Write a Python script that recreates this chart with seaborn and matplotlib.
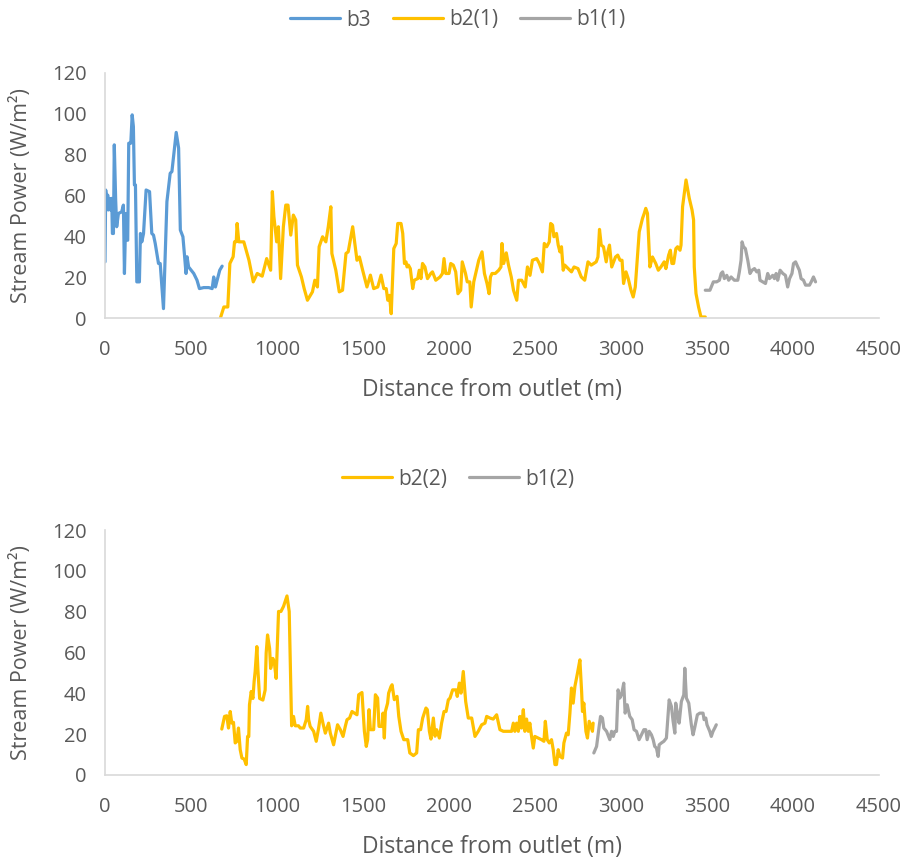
import matplotlib
matplotlib.use("Agg")
import matplotlib.pyplot as plt
import seaborn as sns

# --------------------------
# Data (distance in m, stream power in W/m2)
# --------------------------
b3_x = [0, 4, 10, 16, 19, 25, 33, 39, 43, 49, 54, 62, 68, 78, 97, 107, 113, 121, 126, 132,
        138, 150, 158, 165, 171, 177, 185, 200, 206, 214, 224, 239, 259, 272, 282, 292, 311,
        321, 340, 360, 379, 389, 414, 428, 438, 453, 463, 471, 477, 486, 516, 535, 549, 574,
        603, 623, 632, 642, 652, 667, 681]
b3_y = [27.5, 62.7, 57.8, 60.2, 52.9, 58.6, 52.9, 58.6, 41.4, 41.4, 84.8, 57.8, 44.7, 51.2,
        52.0, 55.3, 21.8, 51.2, 38.1, 38.1, 85.6, 85.6, 99.5, 93.8, 65.2, 65.2, 17.7, 17.7,
        41.4, 37.3, 41.4, 62.7, 61.9, 41.4, 40.6, 36.5, 26.7, 26.7, 4.6, 57.0, 70.9, 71.7,
        90.9, 83.2, 43.1, 39.8, 30.0, 21.8, 30.0, 25.0, 21.8, 18.5, 14.4, 14.9, 14.9, 14.4,
        20.1, 15.2, 18.5, 23.4, 25.4]

b2_1_x = [671, 691, 714, 726, 745, 753, 763, 768, 778, 807, 837, 862, 885, 914, 940, 963, 973,
          982, 998, 1008, 1021, 1037, 1051, 1064, 1080, 1095, 1109, 1119, 1142, 1158, 1177,
          1206, 1220, 1235, 1245, 1265, 1284, 1298, 1313, 1319, 1342, 1362, 1381, 1401, 1414,
          1440, 1465, 1479, 1498, 1523, 1543, 1562, 1586, 1605, 1621, 1635, 1644, 1654, 1664,
          1679, 1693, 1702, 1721, 1731, 1741, 1750, 1756, 1764, 1775, 1789, 1798, 1818, 1827,
          1837, 1846, 1860, 1875, 1894, 1904, 1923, 1948, 1962, 1971, 1981, 2000, 2010, 2025,
          2039, 2052, 2068, 2077, 2096, 2106, 2121, 2129, 2144, 2173, 2192, 2206, 2221, 2233,
          2241, 2250, 2269, 2289, 2302, 2308, 2318, 2333, 2346, 2362, 2375, 2394, 2404, 2423,
          2443, 2456, 2471, 2485, 2510, 2525, 2543, 2554, 2568, 2583, 2591, 2602, 2610, 2625,
          2635, 2645, 2654, 2664, 2673, 2693, 2712, 2727, 2750, 2769, 2789, 2808, 2827, 2856,
          2866, 2875, 2885, 2898, 2914, 2923, 2933, 2946, 2968, 2981, 2994, 3006, 3015, 3029,
          3042, 3058, 3071, 3083, 3106, 3125, 3135, 3144, 3154, 3168, 3183, 3202, 3217, 3232,
          3251, 3261, 3277, 3287, 3296, 3306, 3319, 3329, 3343, 3349, 3358, 3378, 3397, 3413,
          3422, 3426, 3436, 3451, 3465, 3490]
b2_1_y = [0.0, 5.4, 5.4, 26.7, 30.0, 37.3, 37.3, 46.3, 37.3, 37.3, 28.3, 17.7, 21.8, 20.5,
          29.1, 23.4, 61.9, 49.6, 37.3, 44.7, 19.3, 44.7, 55.3, 55.3, 40.6, 50.4, 48.0, 25.9,
          20.1, 14.4, 8.7, 12.8, 18.5, 15.2, 34.9, 39.8, 37.3, 44.7, 54.5, 31.6, 23.4, 12.8,
          13.6, 31.6, 32.4, 44.7, 28.3, 29.9, 23.4, 15.2, 21.0, 14.4, 15.2, 21.0, 14.4, 14.4,
          8.7, 11.1, 2.1, 34.0, 36.5, 46.3, 46.3, 41.4, 26.7, 27.5, 25.0, 25.9, 24.2, 14.4,
          18.5, 19.3, 23.4, 19.3, 26.7, 25.0, 19.3, 21.8, 22.6, 18.5, 20.1, 21.8, 29.1, 21.8,
          21.8, 26.7, 25.9, 22.6, 11.9, 13.6, 27.5, 21.8, 17.7, 17.7, 5.4, 17.7, 28.3, 32.4,
          21.8, 16.9, 11.9, 20.1, 21.8, 21.8, 23.4, 25.0, 36.5, 26.7, 31.9, 25.9, 20.1, 13.6,
          8.7, 18.5, 18.5, 15.2, 25.0, 20.9, 28.3, 29.1, 26.7, 22.6, 36.5, 34.9, 37.3, 46.3,
          45.5, 39.8, 41.4, 35.7, 32.4, 34.9, 23.4, 25.9, 24.2, 22.6, 25.0, 24.2, 20.1, 18.5,
          27.5, 25.9, 27.5, 29.9, 43.4, 35.7, 34.9, 27.5, 32.4, 35.7, 25.0, 29.9, 30.8, 28.3,
          28.3, 16.9, 22.6, 19.3, 13.6, 10.3, 15.2, 42.2, 48.8, 51.2, 53.7, 51.2, 25.0, 29.9,
          26.7, 23.4, 25.0, 27.5, 24.2, 30.8, 33.2, 26.7, 26.7, 34.0, 34.9, 33.2, 35.7, 54.5,
          67.6, 58.6, 52.9, 48.0, 25.0, 12.0, 5.4, 0.5, 0.5]

b1_1_x = [3490, 3517, 3537, 3556, 3572, 3582, 3591, 3601, 3615, 3626, 3640, 3659, 3679, 3688,
          3698, 3704, 3712, 3723, 3737, 3750, 3762, 3776, 3789, 3801, 3808, 3824, 3840, 3853,
          3863, 3873, 3882, 3892, 3902, 3911, 3925, 3941, 3956, 3969, 3980, 3994, 4003, 4015,
          4028, 4037, 4047, 4061, 4073, 4096, 4106, 4119, 4131]
b1_1_y = [13.6, 13.6, 17.7, 17.7, 18.5, 21.8, 22.6, 19.3, 20.9, 18.5, 20.1, 18.5, 18.5, 22.6,
          28.3, 37.3, 34.9, 34.0, 28.3, 21.8, 23.4, 24.2, 22.6, 23.4, 18.5, 17.7, 16.9, 21.8,
          19.3, 20.1, 20.9, 19.3, 21.8, 18.5, 23.4, 21.8, 20.9, 15.2, 19.3, 21.8, 26.7, 27.5,
          25.0, 23.4, 19.3, 18.5, 16.1, 16.1, 17.7, 20.1, 17.7]

b2_2_x = [679, 695, 708, 718, 728, 737, 747, 757, 767, 776, 786, 796, 809, 821, 829, 836, 840,
          850, 860, 867, 873, 883, 889, 899, 918, 931, 937, 945, 957, 963, 976, 984, 995, 1009,
          1023, 1038, 1058, 1071, 1085, 1096, 1106, 1125, 1135, 1155, 1170, 1178, 1184, 1193,
          1213, 1228, 1242, 1255, 1267, 1281, 1300, 1310, 1329, 1352, 1368, 1384, 1397, 1407,
          1422, 1436, 1465, 1475, 1494, 1508, 1519, 1527, 1535, 1543, 1562, 1572, 1585, 1593,
          1611, 1616, 1624, 1630, 1643, 1649, 1663, 1669, 1682, 1698, 1708, 1721, 1737, 1760,
          1772, 1793, 1812, 1822, 1835, 1847, 1866, 1874, 1886, 1895, 1909, 1919, 1928, 1944,
          1957, 1971, 1983, 1996, 2006, 2021, 2041, 2048, 2060, 2070, 2083, 2097, 2112, 2132,
          2151, 2170, 2190, 2209, 2219, 2238, 2257, 2277, 2296, 2316, 2335, 2364, 2374, 2383,
          2393, 2403, 2412, 2422, 2432, 2441, 2451, 2461, 2470, 2480, 2490, 2499, 2519, 2538,
          2552, 2560, 2571, 2583, 2596, 2606, 2616, 2625, 2635, 2645, 2660, 2668, 2683, 2693,
          2703, 2712, 2722, 2732, 2747, 2761, 2771, 2776, 2784, 2796, 2805, 2815, 2825, 2834,
          2838]
b2_2_y = [22.5, 28.7, 29.0, 23.0, 31.1, 25.4, 25.8, 15.7, 16.5, 23.0, 12.4, 8.3, 7.8, 5.1,
          18.9, 18.9, 34.4, 40.9, 37.5, 45.8, 50.7, 62.9, 51.5, 37.5, 36.7, 41.6, 59.7, 68.6,
          62.0, 52.2, 57.1, 55.5, 47.3, 80.1, 80.1, 82.6, 87.7, 80.1, 24.1, 28.7, 24.1, 24.1,
          23.0, 23.0, 27.1, 33.6, 27.1, 23.8, 21.4, 16.5, 23.0, 30.3, 25.4, 20.5, 25.4, 20.5,
          14.8, 24.6, 22.2, 18.9, 23.8, 27.1, 27.9, 31.1, 29.5, 39.3, 40.4, 21.5, 14.0, 17.3,
          32.0, 22.2, 22.2, 39.3, 37.7, 23.8, 23.8, 30.3, 18.1, 31.1, 35.2, 40.1, 43.4, 44.2,
          36.9, 38.5, 28.7, 21.4, 17.3, 17.3, 10.8, 9.5, 10.8, 22.2, 22.2, 27.9, 32.8, 32.0,
          21.4, 17.6, 27.9, 19.0, 22.2, 18.1, 25.4, 31.1, 31.1, 36.8, 37.7, 41.7, 41.7, 38.5,
          45.0, 40.1, 50.7, 36.0, 27.9, 27.9, 18.9, 21.4, 24.6, 25.4, 28.7, 27.9, 27.4, 29.5,
          22.2, 21.4, 21.4, 21.4, 25.4, 21.4, 25.4, 21.4, 28.7, 23.0, 32.0, 21.4, 27.4, 21.4,
          25.4, 18.9, 13.2, 18.9, 18.1, 17.3, 16.5, 26.3, 17.3, 15.7, 17.3, 12.4, 5.1, 5.1,
          12.4, 9.1, 8.3, 15.7, 20.5, 19.7, 30.3, 42.6, 35.2, 43.4, 49.9, 56.4, 40.9, 31.1,
          35.2, 21.4, 18.1, 26.3, 23.8, 21.4, 25.4]

b1_2_x = [2842, 2858, 2873, 2881, 2892, 2900, 2916, 2935, 2945, 2955, 2964, 2974, 2983, 2993,
          3003, 3016, 3024, 3036, 3051, 3065, 3076, 3090, 3105, 3119, 3133, 3144, 3152, 3164,
          3177, 3187, 3196, 3206, 3216, 3222, 3235, 3249, 3264, 3280, 3293, 3303, 3313, 3318,
          3328, 3338, 3351, 3365, 3371, 3380, 3394, 3409, 3419, 3428, 3444, 3458, 3477, 3483,
          3493, 3500, 3516, 3525, 3535, 3545, 3554]
b1_2_y = [10.8, 14.0, 23.8, 28.7, 27.9, 23.0, 21.4, 17.3, 21.4, 18.9, 21.4, 21.4, 41.7, 37.7,
          39.3, 45.0, 30.3, 34.4, 28.7, 27.1, 22.2, 21.4, 17.3, 19.7, 22.2, 22.2, 17.3, 21.4,
          19.7, 17.3, 14.0, 13.2, 9.1, 14.8, 15.7, 16.5, 18.1, 36.8, 33.6, 26.3, 20.5, 35.2,
          30.3, 25.4, 36.0, 39.3, 52.3, 37.7, 35.2, 24.6, 19.7, 23.0, 29.5, 30.3, 30.3, 27.1,
          27.9, 24.6, 21.4, 18.9, 21.4, 23.0, 24.6]

x_ticks = list(range(0, 4501, 500))
y_ticks = list(range(0, 121, 20))

BLUE = '#5B9BD5'
GOLD = '#FFC000'
GREY = '#A5A5A5'
AXIS = '#D9D9D9'
TEXT = '#595959'

sns.set_style('white')
plt.rcParams['font.family'] = ['Open Sans', 'DejaVu Sans']

fig = plt.figure(figsize=(9.09, 8.58), dpi=100)
W, H = 909, 858


def style_axes(ax):
    ax.set_xlim(0, 4500)
    ax.set_ylim(0, 120)
    ax.set_xticks(x_ticks)
    ax.set_yticks(y_ticks)
    for side in ['top', 'right']:
        ax.spines[side].set_visible(False)
    for side in ['left', 'bottom']:
        ax.spines[side].set_color(AXIS)
        ax.spines[side].set_linewidth(1.2)
    ax.tick_params(axis='both', direction='out', length=5, width=1.2, color=AXIS,
                   labelcolor=TEXT, labelsize=14.5)
    ax.tick_params(axis='x', pad=11)
    ax.tick_params(axis='y', pad=8)
    ax.set_xlabel('Distance from outlet (m)', fontsize=16.5, color=TEXT)
    ax.set_ylabel('Stream Power (W/m²)', fontsize=15.5, color=TEXT)
    ax.xaxis.set_label_coords(0.5, -0.245)
    ax.yaxis.set_label_coords(-0.094, 0.5)


# top chart
ax1 = fig.add_axes([105 / W, 1 - 318 / H, 774 / W, 245 / H])
sns.lineplot(x=b3_x, y=b3_y, ax=ax1, color=BLUE, lw=2.3, label='b3', sort=False)
sns.lineplot(x=b2_1_x, y=b2_1_y, ax=ax1, color=GOLD, lw=2.3, label='b2(1)', sort=False)
sns.lineplot(x=b1_1_x, y=b1_1_y, ax=ax1, color=GREY, lw=2.3, label='b1(1)', sort=False)
style_axes(ax1)
ax1.legend(loc='center', bbox_to_anchor=(458 / W, 1 - 20 / H), bbox_transform=fig.transFigure,
           ncol=3, frameon=False, fontsize=15, labelcolor=TEXT, handlelength=2.4,
           columnspacing=1.05, handletextpad=0.3)

# bottom chart
ax2 = fig.add_axes([105 / W, 1 - 775 / H, 774 / W, 245 / H])
sns.lineplot(x=b2_2_x, y=b2_2_y, ax=ax2, color=GOLD, lw=2.3, label='b2(2)', sort=False)
sns.lineplot(x=b1_2_x, y=b1_2_y, ax=ax2, color=GREY, lw=2.3, label='b1(2)', sort=False)
style_axes(ax2)
ax2.legend(loc='center', bbox_to_anchor=(458 / W, 1 - 479 / H), bbox_transform=fig.transFigure,
           ncol=2, frameon=False, fontsize=15, labelcolor=TEXT, handlelength=2.4,
           columnspacing=1.05, handletextpad=0.3)

fig.savefig('out.png', dpi=100)
